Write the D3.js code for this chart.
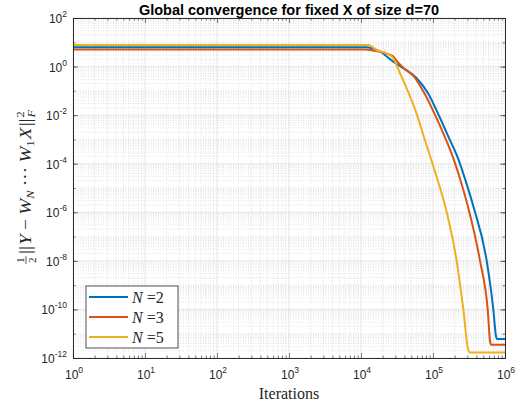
<!DOCTYPE html>
<html>
<head>
<meta charset="utf-8">
<script src="https://cdn.jsdelivr.net/npm/d3@7"></script>
<style>
  body { margin: 0; background: #fff; }
  svg { display: block; }
</style>
</head>
<body>
<svg id="chart" width="529" height="408"></svg>
<script>
// series data
const seriesNames = ['2', '3', '5'];
const seriesColors = ['#0072BD', '#D95319', '#EDB120'];

const itersN2 = [1, 11500, 18400, 28100, 38700, 59400, 85300, 1.21e5, 1.56e5, 2.24e5, 2.87e5, 3.63e5, 5.57e5, 6.88e5, 7.5e5, 7.8e5, 1e6];
const lossN2  = [6.2, 6.2, 4.1, 1.59, 0.85, 0.33, 0.079, 9.5e-3, 1.78e-3, 1.58e-4, 1.78e-5, 1.78e-6, 1.0e-8, 1.0e-10, 7.9e-12, 6.0e-12, 6.0e-12];

const itersN3 = [1, 11500, 14800, 22700, 28100, 31300, 38700, 53200, 75900, 1.08e5, 1.39e5, 1.93e5, 2.45e5, 3.05e5, 4.5e5, 5.75e5, 6.2e5, 6.45e5, 1e6];
const lossN3  = [5.1, 5.1, 4.6, 3.4, 2.6, 1.7, 0.9, 0.42, 0.079, 9.5e-3, 1.78e-3, 1.58e-4, 1.78e-5, 1.78e-6, 1.0e-8, 1.0e-10, 5.0e-12, 3.5e-12, 3.5e-12];

const itersN5 = [1, 12600, 14100, 16500, 22700, 28100, 34800, 43100, 60500, 73300, 1.01e5, 1.55e5, 2.13e5, 2.64e5, 3.09e5, 3.27e5, 1e6];
const lossN5  = [7.7, 7.7, 6.6, 4.8, 3.5, 2.2, 0.53, 0.127, 9.5e-3, 1.52e-3, 7.9e-5, 1.0e-6, 1.0e-8, 1.0e-10, 2.1e-12, 1.7e-12, 1.7e-12];

const xTickExps = [0, 1, 2, 3, 4, 5, 6];
const yTickExps = [2, 0, -2, -4, -6, -8, -10, -12];

const titleText = 'Global convergence for fixed X of size d=70';
const xLabelText = 'Iterations';

// layout
const W = 529, H = 408;
const m = {left: 73, right: 24, top: 18, bottom: 50};
const iw = W - m.left - m.right, ih = H - m.top - m.bottom;
const sans = '"Liberation Sans", Arial, Helvetica, sans-serif';
const serif = '"Liberation Serif", "DejaVu Serif", serif';
const axisColor = '#262626';

const svg = d3.select('#chart');
const g = svg.append('g').attr('transform', `translate(${m.left},${m.top})`);

const x = d3.scaleLog().domain([1, 1e6]).range([0, iw]);
const y = d3.scaleLog().domain([1e-12, 1e2]).range([ih, 0]);

// minor grid
const minorX = [], minorY = [];
for (let e = 0; e < 6; e++) for (let k = 2; k <= 9; k++) minorX.push(k * Math.pow(10, e));
for (let e = -12; e < 2; e++) for (let k = 1; k <= 9; k++) {
  if (k === 1 && e % 2 === 0) continue;
  minorY.push(k * Math.pow(10, e));
}

g.append('g').selectAll('line').data(minorX).join('line')
  .attr('x1', d => x(d)).attr('x2', d => x(d)).attr('y1', 0).attr('y2', ih)
  .attr('stroke', '#d0d0d0').attr('stroke-width', 0.6).attr('stroke-dasharray', '1,1.5');
g.append('g').selectAll('line').data(minorY).join('line')
  .attr('y1', d => y(d)).attr('y2', d => y(d)).attr('x1', 0).attr('x2', iw)
  .attr('stroke', '#d0d0d0').attr('stroke-width', 0.6).attr('stroke-dasharray', '1,1.5');

// major grid
g.append('g').selectAll('line').data(xTickExps).join('line')
  .attr('x1', d => x(Math.pow(10, d))).attr('x2', d => x(Math.pow(10, d))).attr('y1', 0).attr('y2', ih)
  .attr('stroke', '#dcdcdc').attr('stroke-width', 0.7);
g.append('g').selectAll('line').data(yTickExps).join('line')
  .attr('y1', d => y(Math.pow(10, d))).attr('y2', d => y(Math.pow(10, d))).attr('x1', 0).attr('x2', iw)
  .attr('stroke', '#dcdcdc').attr('stroke-width', 0.7);

// lines
const series = [
  {name: seriesNames[0], color: seriesColors[0], xs: itersN2, ys: lossN2},
  {name: seriesNames[1], color: seriesColors[1], xs: itersN3, ys: lossN3},
  {name: seriesNames[2], color: seriesColors[2], xs: itersN5, ys: lossN5}
];
const line = d3.line().x(d => x(d[0])).y(d => y(d[1])).curve(d3.curveMonotoneX);
svg.append('defs').append('clipPath').attr('id', 'clip')
  .append('rect').attr('width', iw).attr('height', ih);
g.append('g').attr('clip-path', 'url(#clip)').selectAll('path').data(series).join('path')
  .attr('d', s => line(s.xs.map((v, i) => [v, s.ys[i]])))
  .attr('fill', 'none').attr('stroke', s => s.color).attr('stroke-width', 2);

// axes (ticks inside, box)
const majX = xTickExps.map(e => Math.pow(10, e));
const majY = yTickExps.map(e => Math.pow(10, e));
const decY = d3.range(-12, 3).map(e => Math.pow(10, e));
function styleAxis(sel) {
  sel.selectAll('path').attr('stroke', axisColor).attr('stroke-width', 0.8);
  sel.selectAll('line').attr('stroke', axisColor).attr('stroke-width', 0.6);
}
g.append('g').attr('transform', `translate(0,${ih})`).call(d3.axisBottom(x).tickValues(majX).tickSize(-5).tickFormat('')).call(styleAxis);
g.append('g').attr('transform', `translate(0,${ih})`).call(d3.axisBottom(x).tickValues(minorX).tickSize(-2.5).tickFormat('')).call(styleAxis);
g.append('g').call(d3.axisTop(x).tickValues(majX).tickSize(-5).tickFormat('')).call(styleAxis);
g.append('g').call(d3.axisTop(x).tickValues(minorX).tickSize(-2.5).tickFormat('')).call(styleAxis);
g.append('g').call(d3.axisLeft(y).tickValues(majY).tickSize(-5).tickFormat('')).call(styleAxis);
g.append('g').call(d3.axisLeft(y).tickValues(decY).tickSize(-2.5).tickFormat('')).call(styleAxis);
g.append('g').attr('transform', `translate(${iw},0)`).call(d3.axisRight(y).tickValues(majY).tickSize(-5).tickFormat('')).call(styleAxis);
g.append('g').attr('transform', `translate(${iw},0)`).call(d3.axisRight(y).tickValues(decY).tickSize(-2.5).tickFormat('')).call(styleAxis);

// tick labels with superscripts
function powLabel(sel, e) {
  sel.attr('font-family', sans).attr('font-size', 12).attr('fill', axisColor).text('10');
  sel.append('tspan').attr('dy', -6).attr('font-size', 8.5).text(e);
}
xTickExps.forEach(e => {
  const t = g.append('text').attr('y', ih + 21).call(powLabel, e);
  const w = t.node().getComputedTextLength();
  t.attr('x', x(Math.pow(10, e)) - w / 2 + 1);
});
yTickExps.forEach(e => {
  const t = g.append('text').attr('y', y(Math.pow(10, e)) + 5).call(powLabel, e);
  const w = t.node().getComputedTextLength();
  t.attr('x', -6 - w);
});

// title
svg.append('text').attr('x', m.left + iw / 2).attr('y', 15).attr('text-anchor', 'middle')
  .attr('font-family', sans).attr('font-size', 14.5).attr('font-weight', 'bold')
  .attr('fill', '#000').text(titleText);

// x label
svg.append('text').attr('x', m.left + iw / 2).attr('y', 399).attr('text-anchor', 'middle')
  .attr('font-family', serif).attr('font-size', 16)
  .attr('fill', axisColor).text(xLabelText);

// y label: 1/2 ||Y - W_N ... W_1 X||_F^2
const yl = svg.append('g').attr('transform', `translate(31,187) rotate(-90)`);
const inner = yl.append('g');
let cx = 0;
function piece(txt, opts = {}) {
  const t = inner.append('text').attr('x', cx).attr('y', opts.dy || 0)
    .attr('font-family', serif).attr('font-size', opts.size || 17)
    .attr('font-style', opts.italic ? 'italic' : 'normal').attr('fill', axisColor).text(txt);
  const w = t.node().getComputedTextLength();
  if (!opts.noAdvance) cx += w + (opts.pad || 0);
  return w;
}
const fw = 7;
inner.append('text').attr('x', cx + fw / 2).attr('y', -7).attr('text-anchor', 'middle')
  .attr('font-family', serif).attr('font-size', 10).attr('fill', axisColor).text('1');
inner.append('text').attr('x', cx + fw / 2).attr('y', 5).attr('text-anchor', 'middle')
  .attr('font-family', serif).attr('font-size', 10).attr('fill', axisColor).text('2');
inner.append('line').attr('x1', cx).attr('x2', cx + fw).attr('y1', -5).attr('y2', -5)
  .attr('stroke', axisColor).attr('stroke-width', 0.7);
cx += fw + 2;
piece('||', {pad: 1});
piece('Y', {italic: true, pad: 4});
piece('\u2212', {pad: 4});
piece('W', {italic: true});
piece('N', {italic: true, size: 11, dy: 3, pad: 4});
piece('\u00b7\u00b7\u00b7', {pad: 4});
piece('W', {italic: true});
piece('1', {size: 11, dy: 3, pad: 1});
piece('X', {italic: true, pad: 1});
piece('||', {pad: 1});
piece('2', {size: 11, dy: -7, noAdvance: true});
piece('F', {italic: true, size: 11, dy: 4});
const target = 154;
inner.attr('transform', `translate(${-target / 2},0) scale(${target / cx},1)`);

// legend
const lg = g.append('g').attr('transform', 'translate(13,268)');
lg.append('rect').attr('width', 92).attr('height', 62).attr('fill', '#fff')
  .attr('stroke', axisColor).attr('stroke-width', 0.8);
series.forEach((s, i) => {
  const row = lg.append('g').attr('transform', `translate(0,${11 + i * 20})`);
  row.append('line').attr('x1', 3).attr('x2', 42).attr('stroke', s.color).attr('stroke-width', 2);
  const t = row.append('text').attr('x', 46).attr('y', 5.5).attr('font-family', serif)
    .attr('font-size', 16).attr('fill', axisColor);
  t.append('tspan').attr('font-style', 'italic').text('N');
  t.append('tspan').text(' =' + s.name);
});
</script>
</body>
</html>
